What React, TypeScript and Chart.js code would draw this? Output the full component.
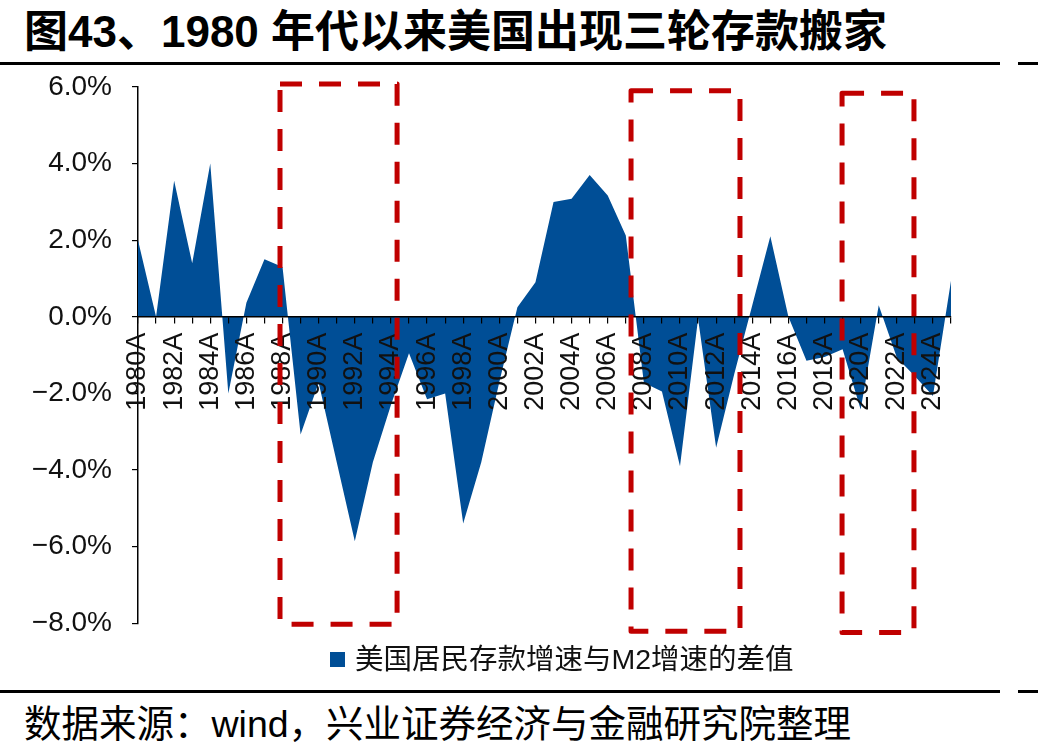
import { useEffect, useRef } from 'react';
import { Chart, registerables } from 'chart.js';

Chart.register(...registerables);

// Years on the category axis
const categories = [
  '1980A', '1981A', '1982A', '1983A', '1984A', '1985A', '1986A', '1987A', '1988A', '1989A',
  '1990A', '1991A', '1992A', '1993A', '1994A', '1995A', '1996A', '1997A', '1998A', '1999A',
  '2000A', '2001A', '2002A', '2003A', '2004A', '2005A', '2006A', '2007A', '2008A', '2009A',
  '2010A', '2011A', '2012A', '2013A', '2014A', '2015A', '2016A', '2017A', '2018A', '2019A',
  '2020A', '2021A', '2022A', '2023A', '2024A', '2025A',
];

// Labels printed under the axis (every other year)
const shownTickLabels = [
  '1980A', '1982A', '1984A', '1986A', '1988A', '1990A', '1992A', '1994A', '1996A', '1998A',
  '2000A', '2002A', '2004A', '2006A', '2008A', '2010A', '2012A', '2014A', '2016A', '2018A',
  '2020A', '2022A', '2024A',
];

// Household deposit growth minus M2 growth, percentage points
const depositMinusM2 = [
  2.0, 0.0, 3.55, 1.4, 4.0, -2.0, 0.37, 1.5, 1.3, -3.07,
  -1.72, -3.8, -5.86, -3.8, -2.3, -0.95, -2.15, -2.0, -5.4, -3.8,
  -1.7, 0.25, 0.9, 3.0, 3.08, 3.7, 3.17, 2.12, -1.72, -1.95,
  -3.9, -0.05, -3.42, -1.5, 0.3, 2.1, 0.0, -1.15, -1.05, -0.85,
  -2.42, 0.3, -1.06, -1.55, -2.07, 0.94,
];

const seriesName = '美国居民存款增速与M2增速的差值';

// Y axis range and step, in percent
const yMin = -8;
const yMax = 6;
const yStep = 2;

// The three deposit-migration windows (year span, percent span)
const firstYear = 1980;
const windowFromYear = [1987.86, 2007.29, 2018.97];
const windowToYear = [1994.34, 2013.32, 2022.95];
const windowTopPct = [6.08, 5.9, 5.84];
const windowBottomPct = [-8.03, -8.21, -8.24];

const BLUE = '#004E96';
const RED = '#C00000';

const formatPct = (v: number) => (v < 0 ? '\u2212' : '') + Math.abs(v).toFixed(1) + '%';

const windowBoxes = {
  id: 'windowBoxes',
  afterDraw(chart: any) {
    const { ctx } = chart;
    const x = chart.scales.x;
    const y = chart.scales.y;
    ctx.save();
    ctx.strokeStyle = RED;
    ctx.lineWidth = 5;
    ctx.lineJoin = 'round';
    ctx.setLineDash([22, 17]);
    windowFromYear.forEach((from, i) => {
      const l = x.getPixelForValue(from - firstYear);
      const r = x.getPixelForValue(windowToYear[i] - firstYear);
      const t = y.getPixelForValue(windowTopPct[i]);
      const b = y.getPixelForValue(windowBottomPct[i]);
      ctx.beginPath();
      ctx.moveTo(l, t);
      ctx.lineTo(r, t);
      ctx.lineTo(r, b);
      ctx.lineTo(l, b);
      ctx.closePath();
      ctx.stroke();
    });
    ctx.restore();
  },
};

const tickFont = { family: '"Liberation Sans", Arial, sans-serif', size: 27 };

export default function App() {
  const canvasRef = useRef<HTMLCanvasElement | null>(null);

  useEffect(() => {
    const canvas = canvasRef.current;
    if (!canvas) return;
    const chart = new Chart(canvas, {
      type: 'line',
      data: {
        labels: categories,
        datasets: [
          {
            label: seriesName,
            data: depositMinusM2,
            fill: 'origin',
            backgroundColor: BLUE,
            borderColor: BLUE,
            borderWidth: 0,
            pointRadius: 0,
            tension: 0,
          },
        ],
      },
      options: {
        responsive: false,
        animation: false,
        devicePixelRatio: 1,
        layout: { padding: { top: 87, right: 87, bottom: 18, left: 0 } },
        plugins: {
          legend: { display: false },
          tooltip: { enabled: false },
        },
        scales: {
          x: {
            type: 'category',
            position: { y: 0 },
            offset: false,
            grid: {
              display: true,
              drawOnChartArea: false,
              drawTicks: true,
              tickLength: 6,
              color: '#000',
              lineWidth: 1.2,
              z: 1,
            },
            border: { display: true, color: '#000', width: 1.5, z: 1 },
            ticks: {
              z: 1,
              autoSkip: false,
              minRotation: 90,
              maxRotation: 90,
              padding: 10,
              color: '#111',
              font: tickFont,
              callback: (_v: any, i: number) =>
                shownTickLabels.includes(categories[i]) ? categories[i] : '',
            },
          },
          y: {
            min: yMin,
            max: yMax,
            afterFit: (scale: any) => {
              scale.width = 138;
            },
            grid: {
              display: true,
              drawOnChartArea: false,
              drawTicks: true,
              tickLength: 6,
              color: '#000',
              lineWidth: 1.2,
            },
            border: { display: true, color: '#000', width: 1.5 },
            ticks: {
              stepSize: yStep,
              padding: 20,
              color: '#111',
              font: { family: '"Liberation Sans", Arial, sans-serif', size: 28 },
              callback: (v: any) => formatPct(Number(v)),
            },
          },
        },
      },
      plugins: [windowBoxes],
    } as any);
    return () => chart.destroy();
  }, []);

  const cjk = '"Noto Sans CJK SC", sans-serif';
  const narrowBold = { fontFamily: '"Liberation Sans Narrow", "Liberation Sans", sans-serif', fontWeight: 'bold' as const };

  return (
    <div
      style={{
        position: 'fixed',
        left: 0,
        top: 0,
        width: 1038,
        height: 756,
        background: '#fff',
        overflow: 'hidden',
      }}
    >
      <div
        style={{
          position: 'absolute',
          left: 24,
          top: 6,
          whiteSpace: 'nowrap',
          fontFamily: cjk,
          fontWeight: 600,
          fontSize: 44,
          lineHeight: '44px',
          color: '#000',
        }}
      >
        图<span style={narrowBold}>43</span>、<span style={narrowBold}>1980 </span>年代以来美国出现三轮存款搬家
      </div>
      <div style={{ position: 'absolute', left: 0, top: 62, width: 1000, height: 2.5, background: '#000' }} />
      <div style={{ position: 'absolute', left: 1018, top: 62, width: 20, height: 2.5, background: '#000' }} />

      <canvas
        ref={canvasRef}
        width={1038}
        height={660}
        style={{ position: 'absolute', left: 0, top: 0, width: 1038, height: 660 }}
      />

      <div
        style={{
          position: 'absolute',
          left: 330,
          top: 644,
          display: 'flex',
          alignItems: 'center',
          whiteSpace: 'nowrap',
          fontFamily: `"Liberation Sans", ${cjk}`,
          fontSize: 28.5,
          lineHeight: '30px',
          color: '#111',
        }}
      >
        <span style={{ display: 'inline-block', width: 15, height: 15, background: BLUE, marginRight: 10 }} />
        <span>{seriesName}</span>
      </div>

      <div style={{ position: 'absolute', left: 0, top: 690, width: 1000, height: 2.5, background: '#000' }} />
      <div style={{ position: 'absolute', left: 1018, top: 690, width: 20, height: 2.5, background: '#000' }} />

      <div
        style={{
          position: 'absolute',
          left: 24,
          top: 704,
          whiteSpace: 'nowrap',
          fontFamily: `"Liberation Sans", ${cjk}`,
          fontSize: 37.5,
          lineHeight: '40px',
          color: '#000',
        }}
      >
        数据来源：wind，兴业证券经济与金融研究院整理
      </div>
    </div>
  );
}
